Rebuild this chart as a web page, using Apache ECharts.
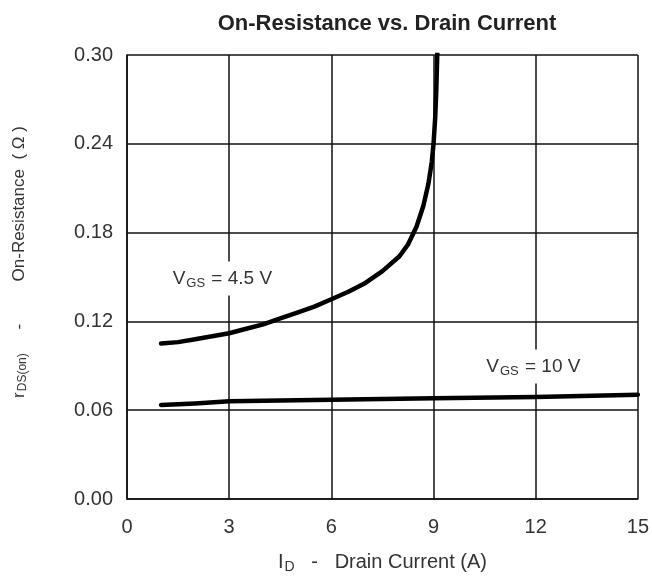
<!DOCTYPE html>
<html><head><meta charset="utf-8">
<script src="https://cdn.jsdelivr.net/npm/echarts@6/dist/echarts.min.js"></script>
<style>html,body{margin:0;padding:0;background:#fff}#c{width:652px;height:579px}</style>
</head><body><div id="c"></div>
<script>
const xTicks = [0, 3, 6, 9, 12, 15];
const yTicks = [0.00, 0.06, 0.12, 0.18, 0.24, 0.30];
const vgs45X = [1, 1.5, 2, 2.5, 3, 3.5, 4, 4.5, 5, 5.5, 6, 6.5, 7, 7.5, 8, 8.25, 8.5, 8.7, 8.85, 8.95, 9.0, 9.05, 9.08, 9.11, 9.13];
const vgs45Y = [0.105, 0.106, 0.108, 0.110, 0.112, 0.115, 0.118, 0.122, 0.126, 0.130, 0.135, 0.140, 0.146, 0.154, 0.164, 0.172, 0.184, 0.198, 0.213, 0.228, 0.240, 0.258, 0.275, 0.300, 0.320];
const vgs10X = [1, 2, 3, 6, 9, 12, 15];
const vgs10Y = [0.0635, 0.0645, 0.066, 0.067, 0.068, 0.069, 0.0705];
const labels = ['{v|V}{s|GS}{v| = 4.5 V}', '{v|V}{s|GS}{v| = 10 V}'];

const font = 'Liberation Sans, Arial, sans-serif';
const rich = {
  v: {fontSize: 19, color: '#333', fontFamily: font},
  s: {fontSize: 13, color: '#333', fontFamily: font, padding: [9, 1, 0, 1]}
};
const xrich = {
  v: {fontSize: 20, color: '#333', fontFamily: font},
  s: {fontSize: 14, color: '#333', fontFamily: font, padding: [9, 0, 0, 1]}
};
const yrich = {
  v: {fontSize: 17, color: '#333', fontFamily: font},
  s: {fontSize: 12, color: '#333', fontFamily: font, padding: [8, 0, 0, 1]}
};
const chart = echarts.init(document.getElementById('c'), null, {renderer: 'canvas'});
chart.setOption({
  animation: false,
  title: {text: 'On-Resistance vs. Drain Current', left: 382, textAlign: 'center', top: 8,
    textStyle: {fontSize: 22, fontWeight: 'bold', color: '#222', fontFamily: font}},
  grid: {left: 127, right: 12, top: 55, bottom: 77},
  xAxis: {type: 'value', min: 0, max: 15, interval: 3,
    axisLine: {lineStyle: {color: '#111', width: 1.5}}, axisTick: {show: false},
    splitLine: {lineStyle: {color: '#111', width: 1.5}},
    axisLabel: {color: '#333', fontSize: 20, fontFamily: font, margin: 18,
      formatter: v => xTicks.includes(v) ? String(v) : ''},
    name: '{v|I}{s|D}{v|   -   Drain Current (A)}', nameLocation: 'middle', nameGap: 52,
    nameTextStyle: {rich: xrich}},
  yAxis: {type: 'value', min: 0, max: 0.30, interval: 0.06,
    axisLine: {show: true, lineStyle: {color: '#111', width: 1.5}}, axisTick: {show: false},
    splitLine: {lineStyle: {color: '#111', width: 1.5}},
    axisLabel: {color: '#333', fontSize: 20, fontFamily: font, margin: 14,
      formatter: v => yTicks.some(t => Math.abs(t - v) < 1e-9) ? v.toFixed(2) : ''},
    name: '{v|r}{s|DS(on)}{v|     -         On-Resistance  ( Ω )}', nameLocation: 'middle', nameGap: 98,
    nameRotate: 90, nameTextStyle: {rich: yrich, padding: [0, 0, 0, 30]}},
  series: [
    {type: 'line', data: vgs45X.map((x, i) => [x, vgs45Y[i]]), smooth: false,
      symbol: 'none', clip: true, lineStyle: {color: '#000', width: 4.5, join: 'round', cap: 'round'},
      markPoint: {symbol: 'circle', symbolSize: 0, data: [{coord: [2.8, 0.149]}],
        label: {show: true, formatter: labels[0], rich: rich, backgroundColor: '#fff', padding: [6, 4, 6, 4]}}},
    {type: 'line', data: vgs10X.map((x, i) => [x, vgs10Y[i]]), smooth: false,
      symbol: 'none', lineStyle: {color: '#000', width: 4.5, join: 'round', cap: 'round'},
      markPoint: {symbol: 'circle', symbolSize: 0, data: [{coord: [11.93, 0.0895]}],
        label: {show: true, formatter: labels[1], rich: rich, backgroundColor: '#fff', padding: [6, 4, 6, 4]}}}
  ]
});
</script></body></html>
